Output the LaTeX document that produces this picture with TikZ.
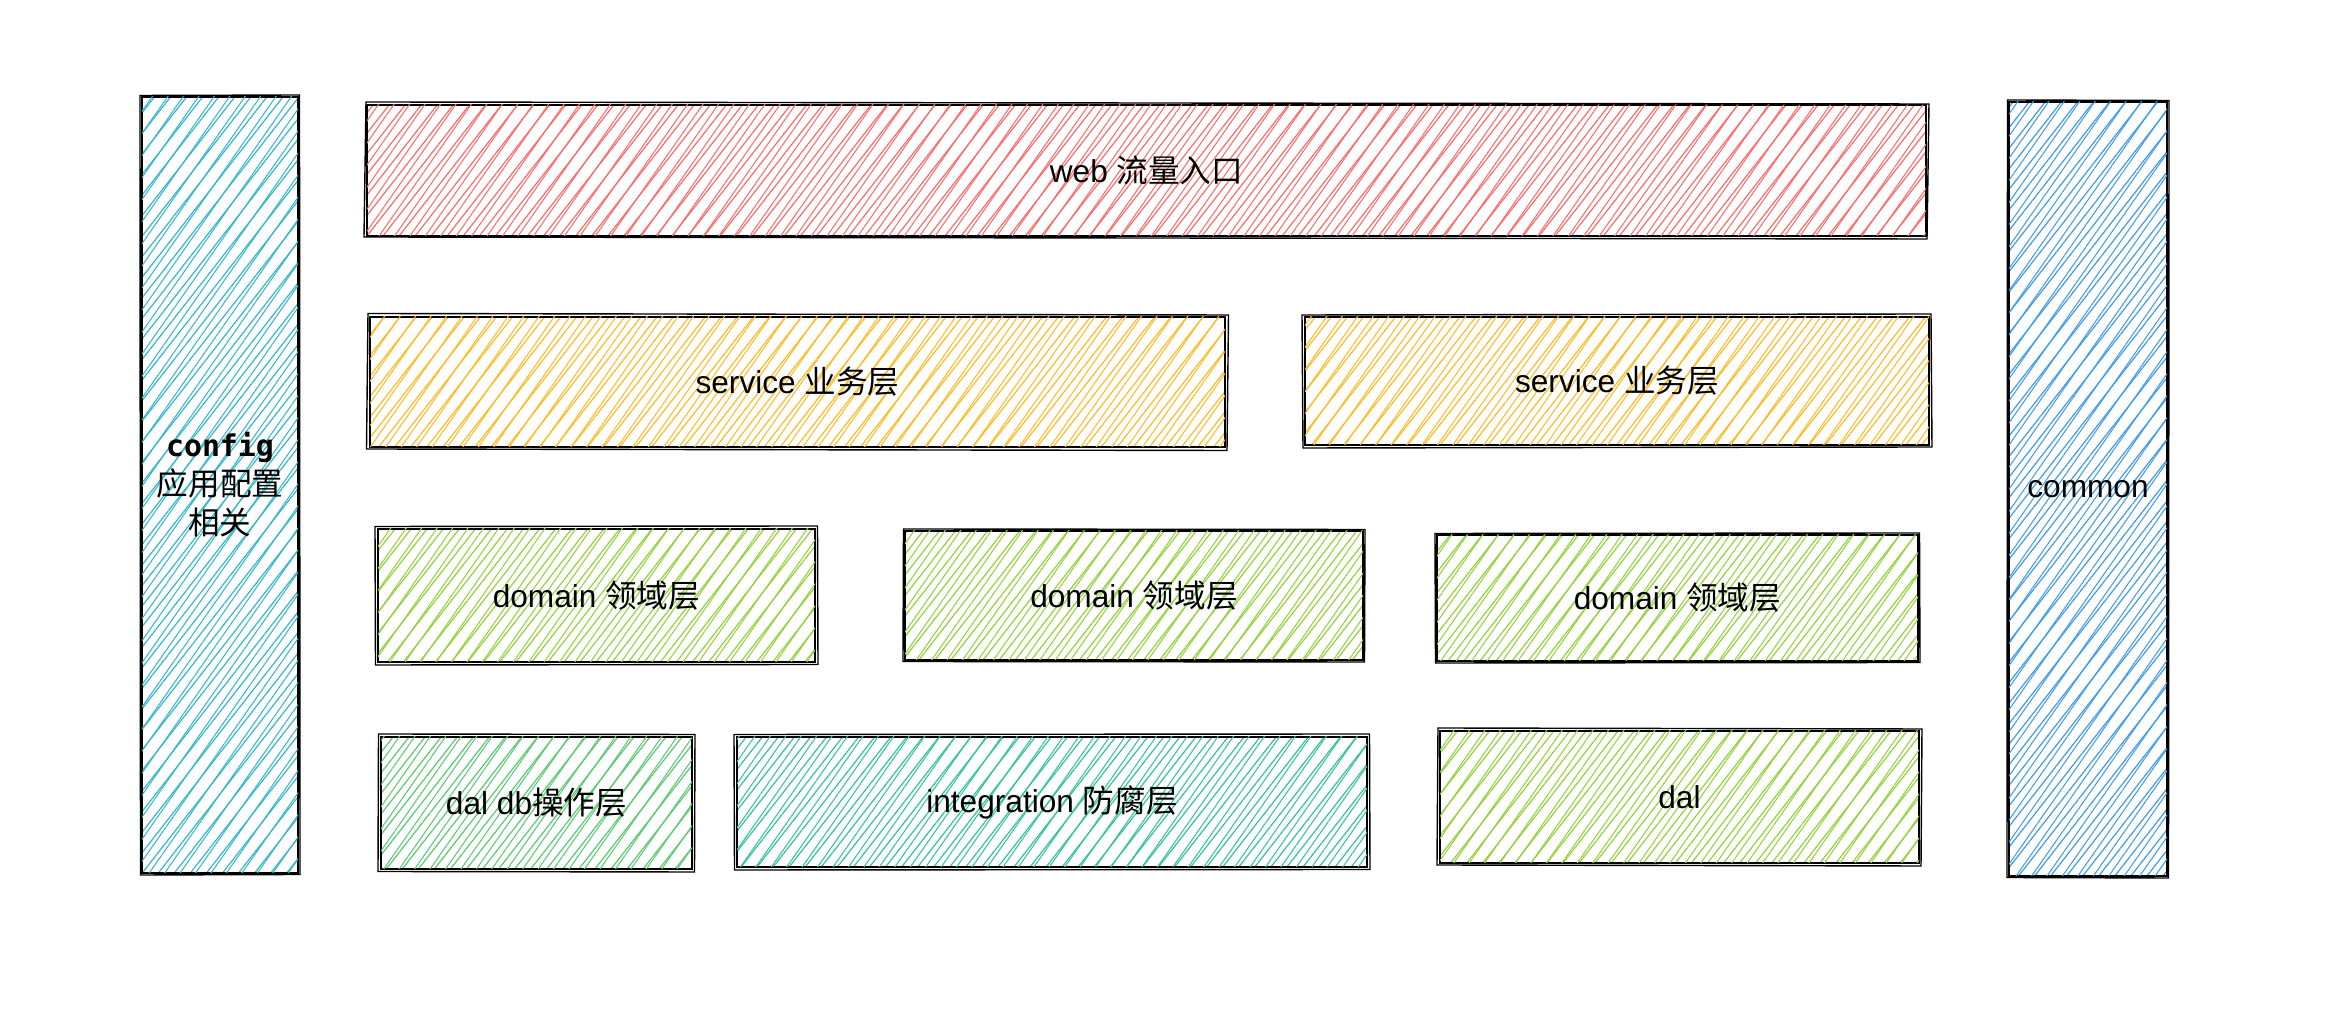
\documentclass[tikz,border=0pt]{standalone}
\usepackage{fontspec}
\setmainfont{Liberation Sans}
\setmonofont{DejaVu Sans Mono}
\newfontfamily\cjk{Noto Sans CJK SC}
\usetikzlibrary{patterns.meta}
\definecolor{webred}{HTML}{FA5252}
\definecolor{srvyellow}{HTML}{FAB005}
\definecolor{domlime}{HTML}{82C91E}
\definecolor{dbgreen}{HTML}{40C057}
\definecolor{integteal}{HTML}{12B886}
\definecolor{cfgcyan}{HTML}{15AABF}
\definecolor{comblue}{HTML}{228BE6}
\begin{document}
\begin{tikzpicture}[font=\fontsize{9}{11.1}\selectfont,
    layerbox/.style={draw=black,line width=.6pt,inner sep=0pt,outer sep=0pt,align=center,
      pattern={Lines[angle=52,distance=3.6pt,line width=.35pt]},pattern color=#1!85!white,
      postaction={pattern={Lines[angle=55,distance=3.6pt,line width=.3pt,xshift=1.2pt]},pattern color=#1!85!white}}]
    \useasboundingbox (0,0) rectangle (23.28,-10.14);
    % side columns
    \node[layerbox=cfgcyan,minimum width=1.56cm,minimum height=7.76cm] (config) at (2.20,-4.85)
      {{\ttfamily\bfseries\fontsize{8.5}{11.1}\selectfont config}\\{\cjk 应用配置}\\{\cjk 相关}};
    \node[layerbox=comblue,minimum width=1.58cm,minimum height=7.74cm] (common) at (20.88,-4.89) {common};
    % web
    \node[layerbox=webred,minimum width=15.59cm,minimum height=1.31cm] (web) at (11.465,-1.705) {web {\cjk 流量入口}};
    % service
    \node[layerbox=srvyellow,minimum width=8.55cm,minimum height=1.30cm] (srv1) at (7.975,-3.82) {service {\cjk 业务层}};
    \node[layerbox=srvyellow,minimum width=6.24cm,minimum height=1.28cm] (srv2) at (16.17,-3.81) {service {\cjk 业务层}};
    % domain
    \node[layerbox=domlime,minimum width=4.37cm,minimum height=1.33cm] (dom1) at (5.965,-5.955) {domain {\cjk 领域层}};
    \node[layerbox=domlime,minimum width=4.58cm,minimum height=1.29cm] (dom2) at (11.34,-5.955) {domain {\cjk 领域层}};
    \node[layerbox=domlime,minimum width=4.81cm,minimum height=1.26cm] (dom3) at (16.775,-5.98) {domain {\cjk 领域层}};
    % dal / integration
    \node[layerbox=dbgreen,minimum width=3.11cm,minimum height=1.32cm] (daldb) at (5.365,-8.03) {dal db{\cjk 操作层}};
    \node[layerbox=integteal,minimum width=6.30cm,minimum height=1.30cm] (integ) at (10.52,-8.02) {integration {\cjk 防腐层}};
    \node[layerbox=domlime,minimum width=4.79cm,minimum height=1.32cm] (dal) at (16.795,-7.97) {dal};
    % second pencil stroke
    \foreach \n/\dx/\dy in {config/.02/.015,common/.015/.02,web/.01/.03,srv1/.02/.035,srv2/.03/.02,
        dom1/.03/.025,dom2/.015/.02,dom3/.02/.015,daldb/.025/.03,integ/.03/.025,dal/.02/.03}
      \draw[line width=.4pt] ([shift={(-\dx,\dy)}]\n.north west) -- ([shift={(\dy,\dx)}]\n.north east)
        -- ([shift={(\dx,-\dy)}]\n.south east) -- ([shift={(-\dy,-\dx)}]\n.south west) -- cycle;
\end{tikzpicture}
\end{document}
